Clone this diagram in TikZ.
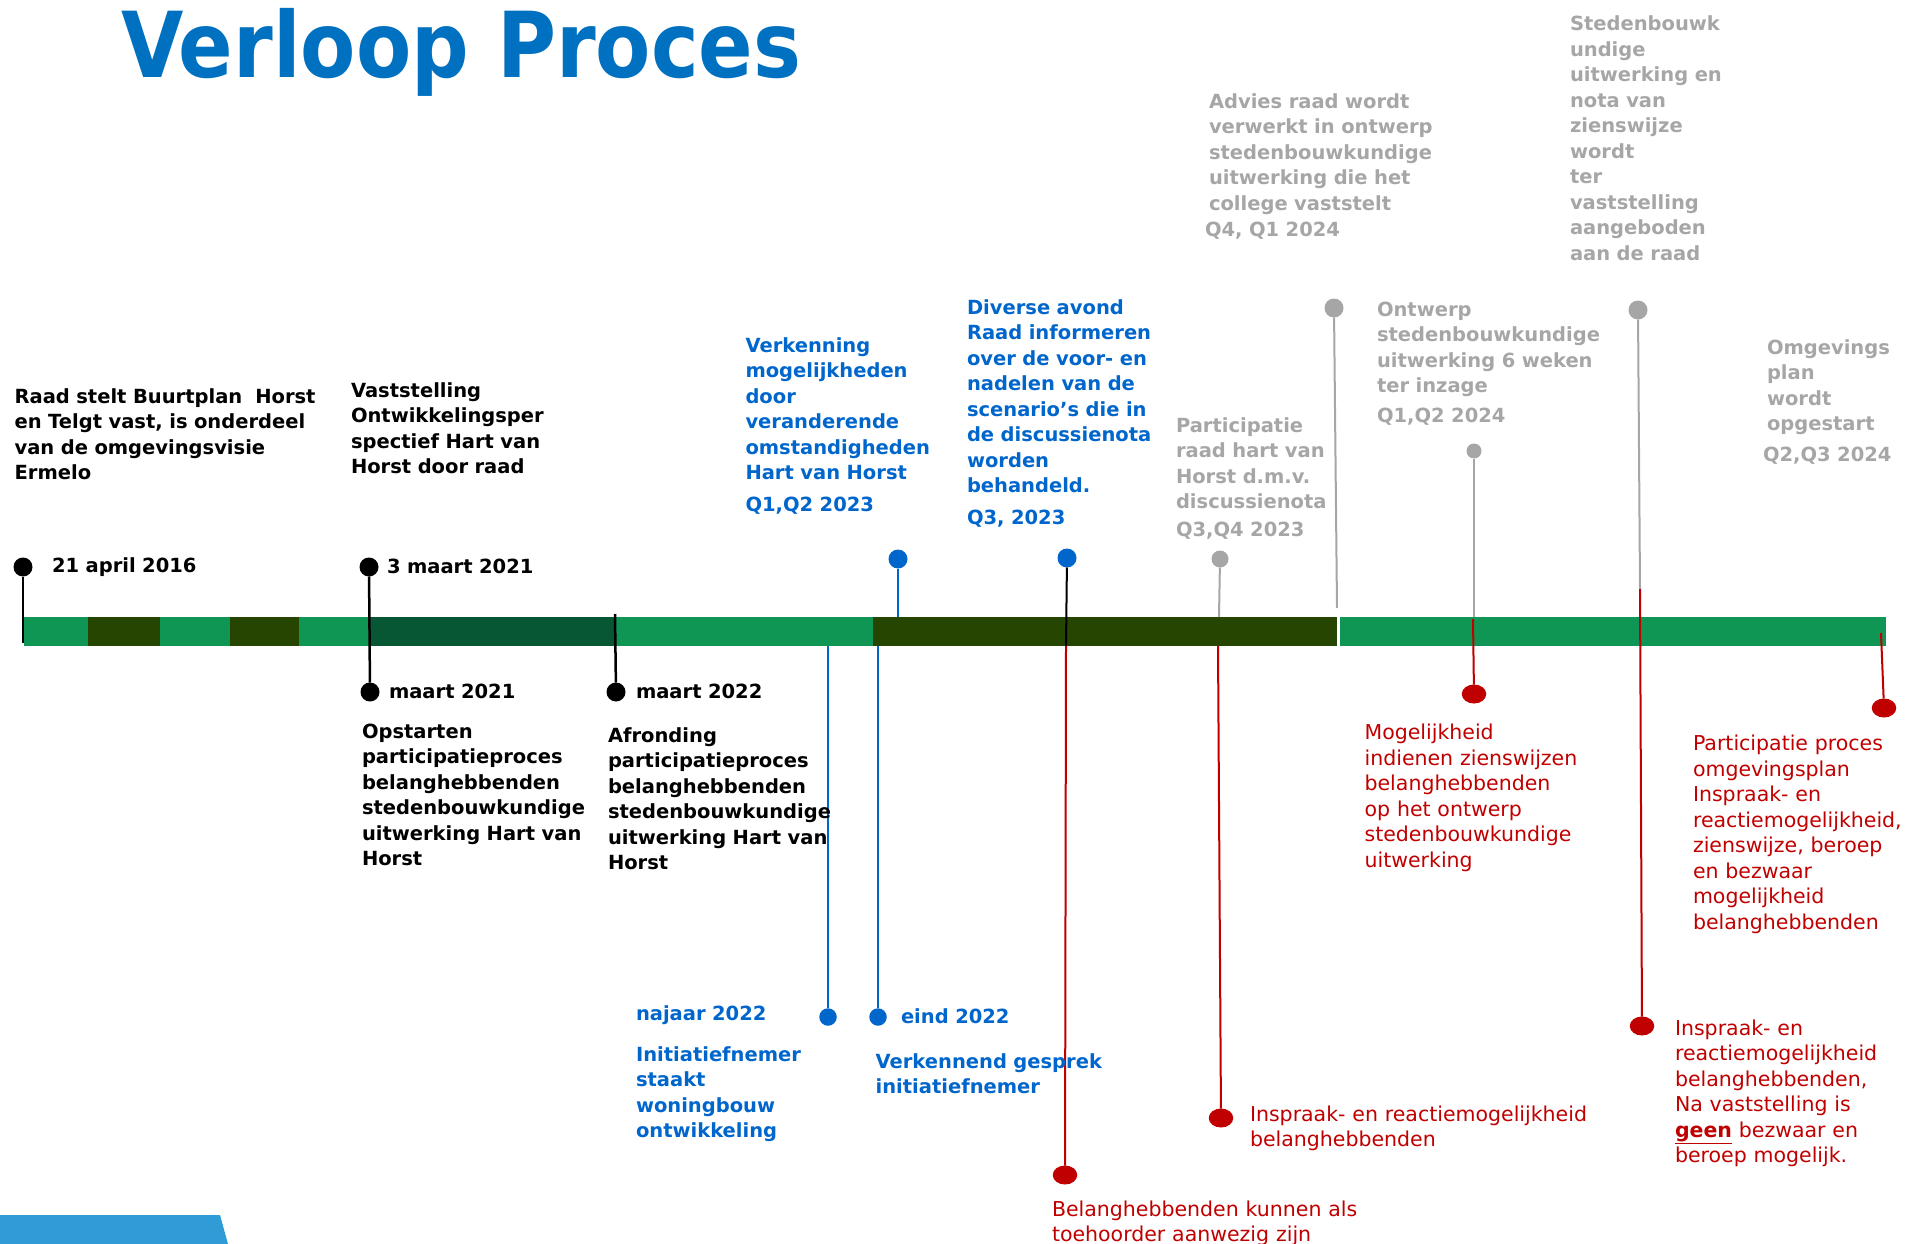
\documentclass[tikz,border=0pt]{standalone}
\usepackage{fontspec}
\setmainfont{DejaVu Sans}
\usetikzlibrary{shapes.geometric}
\definecolor{barlight}{RGB}{16,150,84}
\definecolor{barolive}{RGB}{37,69,0}
\definecolor{bardark}{RGB}{7,87,52}
\definecolor{titleblue}{RGB}{0,112,192}
\definecolor{evblue}{RGB}{0,102,204}
\definecolor{evgray}{RGB}{166,166,166}
\definecolor{evred}{RGB}{192,0,0}
\definecolor{evblack}{RGB}{0,0,0}
\definecolor{cornerblue}{RGB}{47,155,215}

\newcommand{\boldtxt}{\fontsize{19.5}{25.5}\selectfont\bfseries}
\newcommand{\plaintxt}{\fontsize{20.5}{25.5}\selectfont}

\begin{document}
\begin{tikzpicture}[x=1pt,y=-1pt,
  every node/.style={inner sep=0pt,outer sep=0pt},
  evtxt/.style={font=\boldtxt,text=#1,anchor=base west,align=left,text width=420pt},
  redtxt/.style={font=\plaintxt,text=evred,anchor=base west,align=left,text width=420pt},
  evdot/.style={circle,fill=#1,minimum size=19pt},
  smalldot/.style={circle,fill=#1,minimum size=15pt},
  reddot/.style={ellipse,fill=evred,minimum width=24.5pt,minimum height=19pt},
  evstem/.style={draw=#1,line width=2pt}]
  \useasboundingbox (0,0) rectangle (1907,1244);

  % Title
  \node[font=\fontsize{91}{95}\selectfont\bfseries,text=titleblue,anchor=base west]
    (title) at (121,78) {\scalebox{0.885}[1]{Verloop Proces}};

  % Corner shape bottom left
  \fill[cornerblue] (0,1215) -- (220,1215) -- (228,1244) -- (0,1244) -- cycle;

  % --- Timeline bar ---
  \fill[barlight] (24,617) rectangle (1337,646);
  \foreach \a/\b in {88/160,230/299,873/1337}
    \fill[barolive] (\a,617) rectangle (\b,646);
  \fill[bardark] (369,617) rectangle (615,646);
  \fill[barlight] (1340,617) rectangle (1886,646);

  % --- Dots ---
  \foreach \n/\x/\y in {k1/23/567,k2/369/567,k3/370/692,k4/616/692}
    \node[evdot=evblack] (\n) at (\x,\y) {};
  \foreach \n/\x/\y in {b1/898/559,b2/1067/558}
    \node[evdot=evblue] (\n) at (\x,\y) {};
  \foreach \n/\x/\y in {b3/828/1017,b4/878/1017}
    \node[smalldot=evblue,minimum size=17.5pt] (\n) at (\x,\y) {};
  \foreach \n/\x/\y in {g1/1334/308,g3/1638/310}
    \node[evdot=evgray] (\n) at (\x,\y) {};
  \node[smalldot=evgray] (g2) at (1474,451) {};
  \node[smalldot=evgray,minimum size=17pt] (g4) at (1220,559) {};
  \foreach \n/\x/\y in {r1/1065/1175,r2/1221/1118,r3/1474/694,r4/1642/1026,r5/1884/708}
    \node[reddot] (\n) at (\x,\y) {};

  % Free stem ends
  \coordinate (k1e) at (23,643);
  \coordinate (k4e) at (615,614);
  \coordinate (b1e) at (898,617);
  \coordinate (b2m) at (1066,646);
  \coordinate (b3e) at (828,646);
  \coordinate (b4e) at (878,646);
  \coordinate (g1e) at (1337,608);
  \coordinate (g2e) at (1474,617);
  \coordinate (g3e) at (1640,589);
  \coordinate (g4e) at (1219,617);
  \coordinate (r2s) at (1218,646);
  \coordinate (r3s) at (1473,619);
  \coordinate (r5s) at (1881,633);

  % --- Stems ---
  \draw[evstem=evblack,line width=2.5pt] (k1) -- (k1e);
  \draw[evstem=evblack,line width=2.5pt] (k2) -- (k3);
  \draw[evstem=evblack,line width=2.5pt] (k4e) -- (k4);
  \draw[evstem=evblue,line width=1.4pt] (b1) -- (b1e);
  \draw[evstem=evblack] (b2) -- (b2m);
  \draw[evstem=evred] (b2m) -- (r1);
  \draw[evstem=evblue,line width=2.8pt] (b3e) -- (b3);
  \draw[evstem=evblue,line width=2.2pt] (b4e) -- (b4);
  \draw[evstem=evgray] (g1) -- (g1e);
  \draw[evstem=evgray] (g2) -- (g2e);
  \draw[evstem=evred] (r3s) -- (r3);
  \draw[evstem=evgray] (g3) -- (g3e);
  \draw[evstem=evred] (g3e) -- (r4);
  \draw[evstem=evgray] (g4) -- (g4e);
  \draw[evstem=evred] (r2s) -- (r2);
  \draw[evstem=evred] (r5s) -- (r5);

  % --- Black labels ---
  \node[evtxt=evblack] (t16) at (14.6,403)
    {Raad stelt Buurtplan~ Horst\\en Telgt vast, is onderdeel\\van de omgevingsvisie\\Ermelo};
  \node[evtxt=evblack] (t21) at (351,397)
    {Vaststelling\\Ontwikkelingsper\\spectief Hart van\\Horst door raad};
  \node[evtxt=evblack] (k1l) at (52,572) {21 april 2016};
  \node[evtxt=evblack] (k2l) at (387,573) {3 maart 2021};
  \node[evtxt=evblack] (k3l) at (389,698) {maart 2021};
  \node[evtxt=evblack] (k4l) at (636,698) {maart 2022};
  \node[evtxt=evblack] (t21b) at (362,738)
    {Opstarten\\participatieproces\\belanghebbenden\\stedenbouwkundige\\uitwerking Hart van\\Horst};
  \node[evtxt=evblack] (t22b) at (608,742)
    {Afronding\\participatieproces\\belanghebbenden\\stedenbouwkundige\\uitwerking Hart van\\Horst};

  % --- Blue labels ---
  \node[evtxt=evblue] (tverk) at (745.5,352)
    {Verkenning\\mogelijkheden\\door\\veranderende\\omstandigheden\\Hart van Horst\\[6pt]Q1,Q2 2023};
  \node[evtxt=evblue] (tdiv) at (967,314)
    {Diverse avond\\Raad informeren\\over de voor- en\\nadelen van de\\scenario’s die in\\de discussienota\\worden\\behandeld.\\[6.5pt]Q3, 2023};
  \node[evtxt=evblue] (b3l) at (636,1020) {najaar 2022};
  \node[evtxt=evblue] (tnaj) at (636,1061)
    {Initiatiefnemer\\staakt\\woningbouw\\ontwikkeling};
  \node[evtxt=evblue] (b4l) at (901,1023) {eind 2022};
  \node[evtxt=evblue] (teind) at (875.6,1068)
    {Verkennend gesprek\\initiatiefnemer};

  % --- Gray labels ---
  \node[evtxt=evgray] (tadv) at (1209,108.5)
    {Advies raad wordt\\verwerkt in ontwerp\\stedenbouwkundige\\uitwerking die het\\college vaststelt\\[1pt]\hspace*{-4pt}Q4, Q1 2024};
  \node[evtxt=evgray] (tsted) at (1570,30.6)
    {Stedenbouwk\\undige\\uitwerking en\\nota van\\zienswijze\\wordt\\ter\\vaststelling\\aangeboden\\aan de raad};
  \node[evtxt=evgray] (tontw) at (1377,316)
    {Ontwerp\\stedenbouwkundige\\uitwerking 6 weken\\ter inzage\\[4.5pt]Q1,Q2 2024};
  \node[evtxt=evgray] (tpart) at (1176,432)
    {Participatie\\raad hart van\\Horst d.m.v.\\discussienota\\[2.5pt]Q3,Q4 2023};
  \node[evtxt=evgray] (tomg) at (1767,354)
    {Omgevings\\plan\\wordt\\opgestart\\[5.5pt]\hspace*{-4pt}Q2,Q3 2024};

  % --- Red labels ---
  \node[redtxt] (tmog) at (1364.6,739.6)
    {Mogelijkheid\\indienen zienswijzen\\belanghebbenden\\op het ontwerp\\stedenbouwkundige\\uitwerking};
  \node[redtxt] (tppr) at (1693,750.6)
    {Participatie proces\\omgevingsplan\\Inspraak- en\\reactiemogelijkheid,\\zienswijze, beroep\\en bezwaar\\mogelijkheid\\belanghebbenden};
  \node[redtxt] (tins1) at (1250,1121)
    {Inspraak- en reactiemogelijkheid\\belanghebbenden};
  \node[redtxt] (tbel) at (1052,1216)
    {Belanghebbenden kunnen als\\toehoorder aanwezig zijn};
  \node[redtxt] (tins2) at (1675,1035)
    {Inspraak- en\\reactiemogelijkheid\\belanghebbenden,\\Na vaststelling is\\\underline{\textbf{geen}} bezwaar en\\beroep mogelijk.};

\end{tikzpicture}
\end{document}
